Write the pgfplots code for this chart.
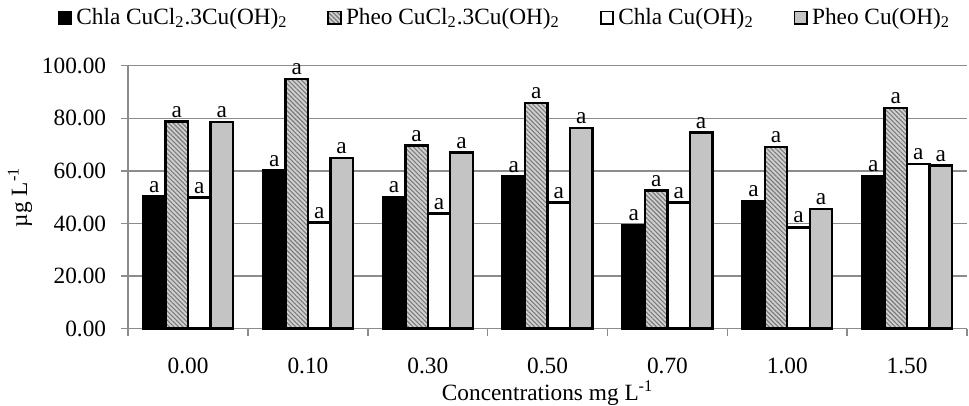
\documentclass[border=0pt]{standalone}
\usepackage{fontspec}
\setmainfont{Liberation Serif}
\usepackage{pgfplots}
\pgfplotsset{compat=1.18}
\usetikzlibrary{patterns.meta}
\definecolor{GridGray}{HTML}{8C8C8C}
\definecolor{BarGray}{HTML}{C4C4C4}
\definecolor{HatchBg}{HTML}{D0D0D0}
\definecolor{HatchLine}{HTML}{7A7A7A}

\pgfplotstableread{
x chlaA pheoA chlaB pheoB
0 50.2 78.7 49.9 78.5
1 60.1 94.9 40.4 64.9
2 50.1 69.6 43.8 67.0
3 57.8 85.7 47.9 76.4
4 39.5 52.5 47.9 74.6
5 48.4 69.1 38.5 45.6
6 57.9 83.9 62.6 62.0
}\conc

\begin{document}
\fontsize{11.7}{14}\selectfont
\begin{tikzpicture}
\begin{axis}[
  scale only axis,
  width=421pt, height=132pt,
  ybar, bar width=0.1875,
  xmin=-0.5, xmax=6.5,
  ymin=0, ymax=100,
  axis x line*=bottom, axis y line*=left,
  axis line style={GridGray, line width=0.75pt},
  xtick={0,...,6},
  xticklabels={0.00,0.10,0.30,0.50,0.70,1.00,1.50},
  minor xtick={-0.5,0.5,...,6.5},
  major x tick style={draw=none},
  minor x tick style={GridGray, line width=0.75pt},
  minor tick length=3.5pt,
  ytick={0,20,...,100},
  y tick style={GridGray, line width=0.75pt},
  major tick length=3.5pt,
  tick align=outside,
  ymajorgrids,
  grid style={GridGray, line width=0.75pt},
  y tick label style={/pgf/number format/fixed, /pgf/number format/fixed zerofill, /pgf/number format/precision=2, /pgf/number format/assume math mode=true},
  yticklabel style={font=\fontsize{11.7}{14}\selectfont, xshift=-3.5pt},
  xticklabel style={font=\fontsize{11.7}{14}\selectfont, inner sep=1pt, yshift=-10pt},
  xlabel={Concentrations mg L\textsuperscript{-1}},
  ylabel={µg L\textsuperscript{-1}},
  xlabel style={at={(axis description cs:0.5,-0.245)}, anchor=center, inner sep=0pt, font=\fontsize{11.7}{14}\selectfont},
  ylabel style={at={(axis description cs:-0.129,0.5)}, anchor=center, font=\fontsize{11.7}{14}\selectfont},
  nodes near coords={a},
  nodes near coords style={font=\fontsize{11.7}{14}\selectfont, anchor=south, inner sep=1.5pt},
  legend columns=4,
  legend style={at={(-0.0915,1.182)}, anchor=west, draw=none, fill=none,
    font=\fontsize{11.7}{14}\selectfont,
    /tikz/every even column/.append style={column sep=18pt}},
  legend image code/.code={\draw[#1, line width=0.9pt] (0pt,-3.2pt) rectangle (6.4pt,3.2pt);},
  clip=false,
]
\addplot[bar shift=-0.28125, fill=black, draw=black, line width=1.2pt] table[x=x, y=chlaA] {\conc};
\addplot[bar shift=-0.09375, fill=HatchBg, draw=black, line width=1.2pt,
  postaction={pattern={Lines[angle=-45, distance=1.6pt, line width=0.55pt]}, pattern color=HatchLine}] table[x=x, y=pheoA] {\conc};
\addplot[bar shift=0.09375, fill=white, draw=black, line width=1.2pt] table[x=x, y=chlaB] {\conc};
\addplot[bar shift=0.28125, fill=BarGray, draw=black, line width=1.2pt] table[x=x, y=pheoB] {\conc};
\legend{Chla CuCl\textsubscript{2}.3Cu(OH)\textsubscript{2}, Pheo CuCl\textsubscript{2}.3Cu(OH)\textsubscript{2}, Chla Cu(OH)\textsubscript{2}, Pheo Cu(OH)\textsubscript{2}}
\end{axis}
\path (current axis.south west) ++(-62.5pt,-35.5pt) rectangle ++(484.5pt,200pt);
\end{tikzpicture}
\end{document}
